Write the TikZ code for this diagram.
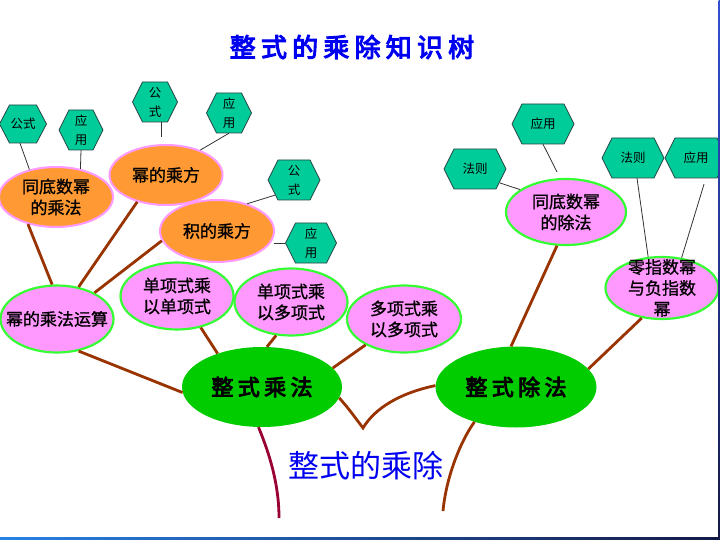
\documentclass[tikz,border=0pt]{standalone}
\usepackage{fontspec}
\setmainfont{Noto Sans CJK SC}
\newfontfamily\cjkheavy{Noto Sans CJK SC}[LetterSpace=20, FakeBold=4]
\newfontfamily\cjkmid{Noto Sans CJK SC}[FakeBold=1]
\usetikzlibrary{shapes.geometric,calc}
\definecolor{hexgreen}{RGB}{0,204,153}
\definecolor{hexline}{RGB}{40,70,70}
\definecolor{orangefill}{RGB}{255,153,51}
\definecolor{pinkc}{RGB}{255,153,255}
\definecolor{limec}{RGB}{51,255,51}
\definecolor{maingreen}{RGB}{0,204,0}
\definecolor{branch}{RGB}{153,51,0}
\definecolor{trunkred}{RGB}{153,0,51}
\definecolor{titleblue}{RGB}{0,0,240}
\tikzset{
  hexfill/.style={fill=hexgreen, draw=hexline, line width=0.8pt},
  hextxt/.style={draw=none, inner sep=0pt, align=center, font=\fontsize{12.5}{19}\selectfont},
  orangeell/.style={ellipse, fill=orangefill, draw=pinkc, line width=2pt, inner sep=0pt},
  pinkell/.style={ellipse, fill=pinkc, draw=limec, line width=2.2pt, inner sep=0pt},
  mainell/.style={ellipse, fill=maingreen, draw=none, inner sep=0pt},
  etxt/.style={align=center, inner sep=0pt, font=\cjkmid\fontsize{17}{21}\selectfont},
  maintxt/.style={inner sep=0pt, font=\cjkheavy\fontsize{22}{24}\selectfont},
  thin/.style={draw=black!80, line width=0.8pt},
  br/.style={draw=branch, line width=2.8pt},
}
\newcommand\HexNode[6]{%
  \filldraw[hexfill] ({#2-#4/2},#3) -- ({#2-#4/2+10},{#3-#5/2}) -- ({#2+#4/2-10},{#3-#5/2}) -- ({#2+#4/2},#3) -- ({#2+#4/2-10},{#3+#5/2}) -- ({#2-#4/2+10},{#3+#5/2}) -- cycle;
  \node[hextxt, minimum width=#4pt, minimum height=#5pt] (#1) at (#2,#3) {#6};
}
\begin{document}
\begin{tikzpicture}[x=1pt,y=-1pt]
\fill[white] (0,0) rectangle (720,540);
\useasboundingbox (0,0) rectangle (720,540);

% title
\node[inner sep=0pt, text=titleblue, font=\cjkheavy\fontsize{26}{28}\selectfont] (title) at (352,47) {整式的乘除知识树};

% hexagons
\HexNode{h1}{23}{124}{47}{38}{公式}
\HexNode{h2}{81}{130}{44}{40}{应\\用}
\HexNode{h3}{155}{102}{45}{40}{公\\式}
\HexNode{h4}{229}{113}{45}{40}{应\\用}
\HexNode{h5}{294}{180}{52}{40}{公\\式}
\HexNode{h6}{311}{243}{51}{40}{应\\用}
\HexNode{h7}{543}{124}{62}{40}{应用}
\HexNode{h8}{475}{169}{62}{40}{法则}
\HexNode{h9}{633}{158}{62}{40}{法则}
\HexNode{h10}{696}{158}{62}{40}{应用}

% ellipses
\node[orangeell, minimum width=114pt, minimum height=60pt] (e1) at (56,197) {};
\node[orangeell, minimum width=113pt, minimum height=60pt] (e2) at (166,175) {};
\node[orangeell, minimum width=114pt, minimum height=62pt] (e3) at (217,231) {};
\node[pinkell, minimum width=113pt, minimum height=67pt] (e4) at (57,319) {};
\node[pinkell, minimum width=113pt, minimum height=67pt] (e5) at (177,296) {};
\node[pinkell, minimum width=113pt, minimum height=67pt] (e6) at (291,302) {};
\node[pinkell, minimum width=114pt, minimum height=67pt] (e7) at (404,319) {};
\node[pinkell, minimum width=120pt, minimum height=66pt] (e8) at (566,212) {};
\node[pinkell, minimum width=113pt, minimum height=62pt] (e9) at (662,288) {};
\node[mainell, minimum width=160pt, minimum height=80pt] (m1) at (262,387) {};
\node[mainell, minimum width=161pt, minimum height=81pt] (m2) at (516,387) {};

% ellipse texts
\node[etxt] (t1) at (e1) {同底数幂\\的乘法};
\node[etxt] (t2) at (e2) {幂的乘方};
\node[etxt] (t3) at (e3) {积的乘方};
\node[etxt] (t4) at (e4) {幂的乘法运算};
\node[etxt] (t5) at (e5) {单项式乘\\以单项式};
\node[etxt] (t6) at (e6) {单项式乘\\以多项式};
\node[etxt] (t7) at (e7) {多项式乘\\以多项式};
\node[etxt] (t8) at (e8) {同底数幂\\的除法};
\node[etxt] (t9) at (e9) {零指数幂\\与负指数\\幂};
\node[maintxt] (mt1) at (m1) {整式乘法};
\node[maintxt] (mt2) at (m2) {整式除法};

% thin connectors
\draw[thin] ($(h1.south)+(-3,0)$) -- (e1.134);
\draw[thin] (h2.south) -- (e1.49);
\draw[thin] ($(h3.south)+(6,0)$) -- ($(e2.north)+(-5,-7)$);
\draw[thin] (h4.south) -- (e2.36);
\draw[thin] ($(h5.south west)+(7,-5)$) -- (e3.42);
\draw[thin] (h6.west) -- ++(-11,0);
\draw[thin] (h7.south) -- ($(e8.north)+(-9,-6)$);
\draw[thin] ($(h8)+(25,14)$) -- (e8.154);
\draw[thin] ($(h9.south)+(4,0)$) -- (e9.114);
\draw[thin] ($(h10.south)+(8,6)$) -- (e9.57);

% brown branches
\draw[br] (e1.224) -- (e4.98);
\draw[br] (e2.223) -- (e4.56);
\draw[br] (e3.190) -- (e4.35);
\draw[br] (e4.-56) -- (m1.184);
\draw[br] (e5.-53) -- (m1.143);
\draw[br] (e6.246) -- (m1.83);
\draw[br] (e7.214) -- (m1.15);
\coordinate (vb) at (363,428);
\draw[br] (m1.352) .. controls (348,408) .. (vb) .. controls (375,408) and (400,393) .. (m2.179);
\draw[br] (m2.97) -- (e8.255);
\draw[br] (m2.14) -- (e9.236);
\coordinate (tr2) at (443,511);
\draw[br] (m2.220) .. controls (460,442) and (446,478) .. (tr2);
\coordinate (tr1) at (279,518);
\draw[draw=trunkred, line width=2.8pt] (m1.265) .. controls (270,455) and (279,485) .. (tr1);

% main label
\node[inner sep=0pt, text=titleblue, font=\fontsize{31}{34}\selectfont] (lab) at (366,466) {整式的乘除};

% frame bars
\shade[left color={rgb,255:red,40;green,130;blue,230}, right color={rgb,255:red,20;green,25;blue,70}] (0,537) rectangle (720,540);
\shade[top color={rgb,255:red,50;green,80;blue,210}, bottom color={rgb,255:red,20;green,25;blue,70}] (718.5,0) rectangle (720,537);
\end{tikzpicture}
\end{document}
